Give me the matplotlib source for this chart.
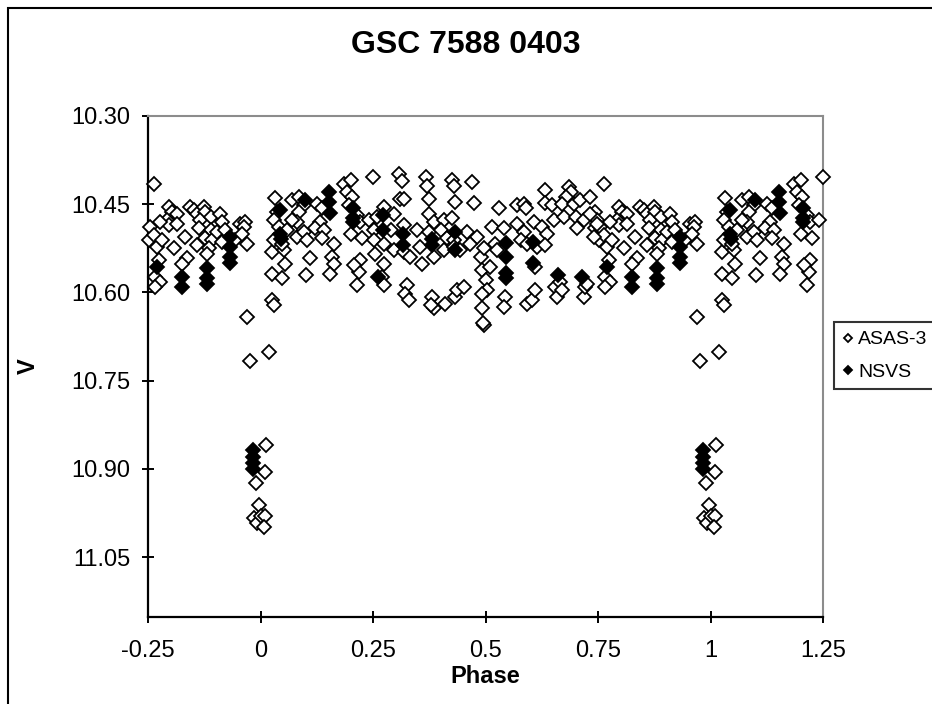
import numpy as np
import matplotlib
matplotlib.use("Agg")
import matplotlib.pyplot as plt
from matplotlib.patches import Rectangle

plt.rcParams['font.family'] = ['Liberation Sans', 'DejaVu Sans']

# ASAS-3 photometry, phase folded on [0, 1)
asas_phase = [
    0.763, 0.744, 0.748, 0.744, 0.755, 0.752, 0.763, 0.770, 0.774, 0.766,
    0.777, 0.766, 0.796, 0.803, 0.814, 0.792, 0.796, 0.814, 0.777, 0.781,
    0.807, 0.833, 0.837, 0.826, 0.844, 0.852, 0.859, 0.874, 0.877, 0.866,
    0.889, 0.863, 0.889, 0.877, 0.892, 0.885, 0.881, 0.859, 0.911, 0.914,
    0.903, 0.922, 0.926, 0.914, 0.944, 0.955, 0.966, 0.963, 0.959, 0.970,
    0.970,
    0.026, 0.029, 0.026, 0.048, 0.026, 0.052, 0.055, 0.033, 0.037, 0.029,
    0.040, 0.029, 0.048, 0.070, 0.085, 0.096, 0.085, 0.081, 0.070, 0.059,
    0.081, 0.096, 0.103, 0.111, 0.100, 0.126, 0.137, 0.133, 0.122, 0.140,
    0.137, 0.163, 0.159, 0.163, 0.155, 0.185, 0.200, 0.192, 0.203, 0.196,
    0.214, 0.222, 0.240, 0.200, 0.226, 0.252, 0.259, 0.252, 0.255, 0.222,
    0.218, 0.214, 0.207, 0.250,
    0.307, 0.315, 0.367, 0.370, 0.426, 0.430, 0.470, 0.311, 0.318, 0.374,
    0.433, 0.474, 0.529, 0.570, 0.585, 0.589, 0.633, 0.685, 0.689, 0.633,
    0.648, 0.678, 0.670, 0.696, 0.711, 0.733, 0.274, 0.296, 0.374, 0.385,
    0.407, 0.426, 0.289, 0.318, 0.348, 0.374, 0.400, 0.415, 0.430, 0.459,
    0.481, 0.466, 0.274, 0.296, 0.318, 0.333, 0.355, 0.359, 0.385, 0.407,
    0.430, 0.444, 0.489, 0.496, 0.515, 0.541, 0.522, 0.526, 0.570, 0.585,
    0.607, 0.626, 0.637, 0.652, 0.674, 0.700, 0.704, 0.718, 0.733, 0.748,
    0.741, 0.578, 0.592, 0.615, 0.633, 0.270, 0.274, 0.274, 0.326, 0.322,
    0.330, 0.381, 0.385, 0.378, 0.411, 0.433, 0.437, 0.452, 0.493, 0.500,
    0.504, 0.493, 0.511, 0.493, 0.496, 0.495, 0.544, 0.541, 0.592, 0.604,
    0.611, 0.611, 0.655, 0.659, 0.666, 0.670, 0.718, 0.722, 0.726,
    0.976, 0.018, 0.013, 0.011, 0.989, 0.996, 0.985, 0.000, 0.011, 0.993,
    0.007,
]
asas_mag = [
    10.415, 10.463, 10.477, 10.491, 10.488, 10.511, 10.502, 10.522, 10.545, 10.573,
    10.582, 10.590, 10.454, 10.463, 10.466, 10.477, 10.485, 10.483, 10.480, 10.511,
    10.525, 10.505, 10.542, 10.551, 10.454, 10.460, 10.466, 10.454, 10.463, 10.477,
    10.471, 10.491, 10.494, 10.508, 10.511, 10.525, 10.534, 10.519, 10.466, 10.480,
    10.497, 10.494, 10.511, 10.514, 10.511, 10.483, 10.480, 10.488, 10.500, 10.517,
    10.641,
    10.613, 10.621, 10.568, 10.576, 10.531, 10.528, 10.551, 10.440, 10.463, 10.477,
    10.488, 10.511, 10.517, 10.443, 10.437, 10.451, 10.463, 10.480, 10.477, 10.494,
    10.505, 10.497, 10.511, 10.542, 10.570, 10.449, 10.457, 10.480, 10.491, 10.494,
    10.508, 10.517, 10.539, 10.551, 10.568, 10.415, 10.409, 10.429, 10.437, 10.451,
    10.468, 10.480, 10.477, 10.500, 10.508, 10.494, 10.471, 10.511, 10.534, 10.545,
    10.565, 10.587, 10.553, 10.404,
    10.398, 10.410, 10.404, 10.419, 10.408, 10.419, 10.413, 10.442, 10.442, 10.442,
    10.446, 10.448, 10.457, 10.451, 10.449, 10.457, 10.425, 10.420, 10.429, 10.448,
    10.451, 10.437, 10.449, 10.449, 10.443, 10.437, 10.454, 10.466, 10.466, 10.480,
    10.477, 10.474, 10.494, 10.485, 10.494, 10.497, 10.494, 10.508, 10.511, 10.497,
    10.505, 10.517, 10.517, 10.528, 10.531, 10.539, 10.522, 10.551, 10.539, 10.528,
    10.522, 10.528, 10.539, 10.525, 10.488, 10.491, 10.517, 10.528, 10.483, 10.497,
    10.480, 10.488, 10.500, 10.477, 10.471, 10.471, 10.491, 10.477, 10.466, 10.483,
    10.505, 10.511, 10.517, 10.522, 10.519, 10.573, 10.587, 10.551, 10.587, 10.602,
    10.613, 10.607, 10.627, 10.621, 10.619, 10.607, 10.596, 10.590, 10.562, 10.579,
    10.596, 10.602, 10.556, 10.627, 10.655, 10.652, 10.607, 10.624, 10.619, 10.613,
    10.596, 10.556, 10.590, 10.607, 10.582, 10.596, 10.607, 10.590, 10.585,
    10.717, 10.701, 10.859, 10.905, 10.924, 10.961, 10.983, 10.981, 10.980, 10.992,
    10.999,
]

# NSVS photometry, phase folded on [0, 1)
nsvs_phase = [
    0.043, 0.043, 0.045, 0.099, 0.152, 0.152, 0.154, 0.206, 0.206, 0.206,
    0.272, 0.272, 0.262, 0.317, 0.317, 0.381, 0.381, 0.432, 0.432, 0.546,
    0.546, 0.546, 0.546, 0.606, 0.606, 0.661, 0.714, 0.769, 0.825, 0.825,
    0.882, 0.882, 0.882, 0.932, 0.932, 0.932, 0.932, 0.984, 0.984, 0.984,
    0.984,
]
nsvs_mag = [
    10.460, 10.500, 10.510, 10.443, 10.430, 10.446, 10.465, 10.456, 10.473, 10.480,
    10.468, 10.494, 10.574, 10.500, 10.520, 10.510, 10.520, 10.497, 10.528, 10.516,
    10.540, 10.567, 10.575, 10.514, 10.550, 10.570, 10.574, 10.556, 10.573, 10.590,
    10.559, 10.575, 10.585, 10.506, 10.523, 10.540, 10.550, 10.868, 10.880, 10.890,
    10.900,
]

x_ticks = [-0.25, 0, 0.25, 0.5, 0.75, 1, 1.25]
x_labels = ['-0.25', '0', '0.25', '0.5', '0.75', '1', '1.25']
y_ticks = [10.30, 10.45, 10.60, 10.75, 10.90, 11.05]


def extend_phase(phase, mag, lo=-0.25, hi=1.25):
    # repeat the folded curve one cycle either side, keep what is in view
    p = np.asarray(phase)
    m = np.asarray(mag)
    pp = np.concatenate([p - 1, p, p + 1])
    mm = np.concatenate([m, m, m])
    keep = (pp >= lo - 1e-9) & (pp <= hi + 1e-9)
    return pp[keep], mm[keep]


fig = plt.figure(figsize=(9.32, 7.04), dpi=100)
ax = fig.add_axes([148 / 932, 87 / 704, 675 / 932, 501 / 704])

ap, am = extend_phase(asas_phase, asas_mag)
npp, nm = extend_phase(nsvs_phase, nsvs_mag)

ax.plot(ap, am, linestyle='none', marker='D', markersize=6.8,
        markerfacecolor='white', markeredgecolor='black', markeredgewidth=1.3,
        clip_on=False, label='ASAS-3', zorder=3)
ax.plot(npp, nm, linestyle='none', marker='D', markersize=6.8,
        markerfacecolor='black', markeredgecolor='black', markeredgewidth=1.3,
        clip_on=False, label='NSVS', zorder=4)

ax.set_xlim(-0.25, 1.25)
ax.set_ylim(11.152, 10.30)
ax.set_xticks(x_ticks)
ax.set_xticklabels(x_labels)
ax.set_yticks(y_ticks)
ax.set_yticklabels([f"{v:.2f}" for v in y_ticks])

ax.tick_params(direction='inout', length=9, width=1.4, labelsize=17,
               colors='black')
ax.tick_params(axis='y', pad=8)
ax.tick_params(axis='x', pad=12)

for side in ['left', 'bottom']:
    ax.spines[side].set_color('black')
    ax.spines[side].set_linewidth(1.6)
for side in ['top', 'right']:
    ax.spines[side].set_color('#8c8c8c')
    ax.spines[side].set_linewidth(1.5)

ax.set_xlabel('Phase', fontsize=17, fontweight='bold', labelpad=2)
fig.text(28 / 932, 1 - 366 / 704, 'V', fontsize=17, fontweight='bold',
         rotation=90, ha='center', va='center')

fig.text(466 / 932, 1 - 45 / 704, 'GSC 7588 0403', fontsize=23,
         fontweight='bold', ha='center', va='center')

# outer chart frame
fig.patches.append(Rectangle((8 / 932, -0.05), 1.2, 1 - 8 / 704 + 0.05,
                             transform=fig.transFigure, fill=False,
                             edgecolor='black', linewidth=1.5))

leg = ax.legend(loc='upper left', bbox_to_anchor=(834 / 932, 1 - 322 / 704),
                bbox_transform=fig.transFigure, fontsize=14, frameon=True,
                fancybox=False, shadow=False, borderpad=0.45, labelspacing=0.75,
                handlelength=0.5, handletextpad=0.3, markerscale=0.65,
                borderaxespad=0)
leg.get_frame().set_edgecolor('black')
leg.get_frame().set_linewidth(1.5)

fig.savefig('out.png', dpi=100)
